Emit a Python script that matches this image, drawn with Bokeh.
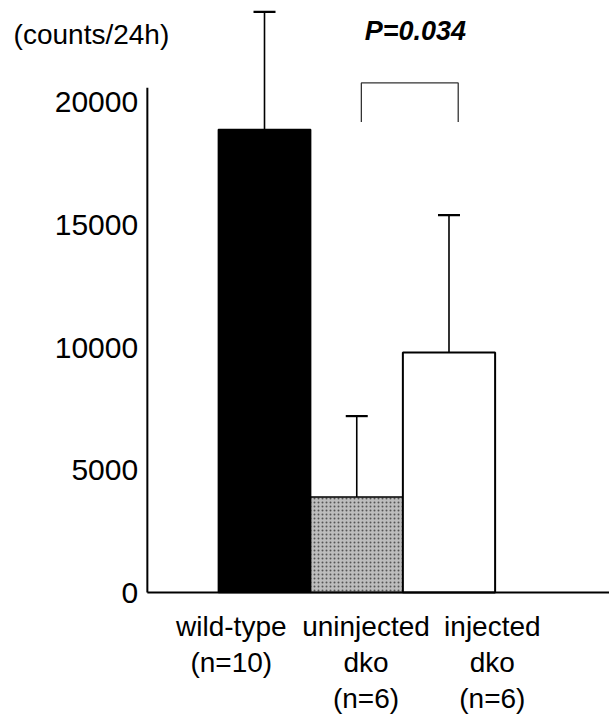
from bokeh.plotting import figure
from bokeh.models import Range1d, Whisker, TeeHead, ColumnDataSource
from bokeh.core.properties import value
from bokeh.embed import file_html
from bokeh.resources import INLINE

# ---- data ----
groups = ["wild-type\n(n=10)", "uninjected\ndko\n(n=6)", "injected\ndko\n(n=6)"]
means = [18900, 3900, 9800]
sds = [4800, 3300, 5600]
colors = ["#000000", "#bdbdbd", "#ffffff"]
y_ticks = [0, 5000, 10000, 15000, 20000]
y_tick_labels = ["0", "5000", "10000", "15000", "20000"]
p_text = "P=0.034"
unit_text = "(counts/24h)"

# ---- layout constants (data-space positions) ----
xpos = [1, 2, 3]
label_x = [0.64, 2.10, 3.47]
axis_x = -0.27
x_right = 4.74
y_axis_top = 20600

FONT = value("Liberation Sans")

p = figure(width=609, height=715, output_backend="svg", toolbar_location=None,
           x_range=Range1d(-1.862, x_right), y_range=Range1d(-5020, 24163),
           x_axis_location=None, y_axis_location=None,
           min_border_left=0, min_border_right=0, min_border_top=0,
           min_border_bottom=0)
p.background_fill_color = "white"
p.border_fill_color = "white"
p.outline_line_color = None
p.grid.visible = False

src = ColumnDataSource(dict(x=xpos, top=means, upper=[m + s for m, s in zip(means, sds)]))

# bars
p.vbar(x=[xpos[0]], top=[means[0]], width=1.0, fill_color=colors[0], line_color="black",
       line_width=1.5)
p.vbar(x=[xpos[1]], top=[means[1]], width=1.0, fill_color=colors[1], line_color="black",
       line_width=1.5, hatch_pattern="dot", hatch_color="#555555", hatch_scale=4,
       hatch_weight=1)
p.vbar(x=[xpos[2]], top=[means[2]], width=1.0, fill_color=colors[2], line_color="black",
       line_width=2)

# error bars (upper only)
w = Whisker(base="x", upper="upper", lower="top", source=src,
            upper_head=TeeHead(size=22, line_width=2.2, line_color="black"),
            lower_head=None, line_width=1.6, line_color="black")
p.add_layout(w)

# axes lines
p.line(x=[axis_x, axis_x], y=[0, y_axis_top], line_color="black", line_width=2)
p.line(x=[axis_x, x_right], y=[0, 0], line_color="black", line_width=2)

# y tick labels
p.text(x=[axis_x - 0.1] * len(y_ticks), y=y_ticks, text=y_tick_labels,
       text_align="right", text_baseline="middle", text_font=FONT,
       text_font_size="30px", text_color="black")

# category labels
p.text(x=label_x, y=[-755] * len(groups), text=groups, text_align="center",
       text_baseline="top", text_font=FONT, text_font_size="28px",
       text_color="black", text_line_height=1.16)

# significance bracket between dko groups
bx0, bx1 = xpos[1] + 0.05, xpos[2] + 0.10
p.line(x=[bx0, bx0, bx1, bx1], y=[19200, 20800, 20800, 19200], line_color="#333333",
       line_width=1.3)

p.text(x=[(bx0 + bx1) / 2 + 0.06], y=[22900], text=[p_text], text_align="center",
       text_baseline="middle", text_font_size="27px", text_font=FONT,
       text_font_style="bold italic", text_color="black")
p.text(x=[-1.72], y=[22776], text=[unit_text], text_align="left",
       text_baseline="middle", text_font_size="28px", text_font=FONT,
       text_color="black")

open("out.html", "w").write(file_html(p, INLINE))
